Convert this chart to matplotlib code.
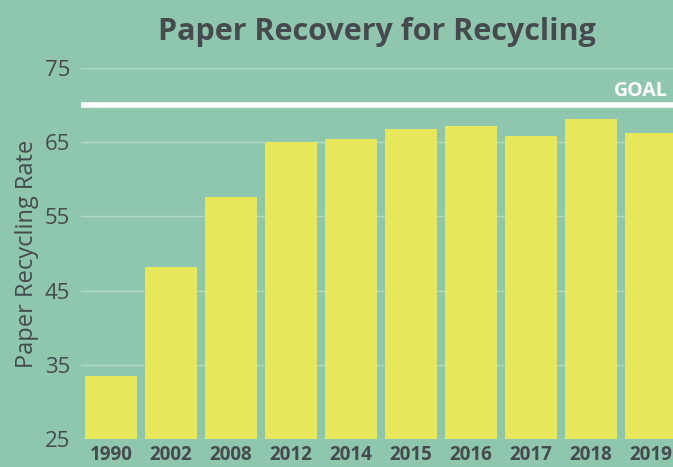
import numpy as np
import matplotlib.pyplot as plt

years = ['1990', '2002', '2008', '2012', '2014', '2015', '2016', '2017', '2018', '2019']
rates = [33.5, 48.2, 57.6, 65.0, 65.4, 66.8, 67.2, 65.8, 68.1, 66.2]
goal = 70
yticks = [25, 35, 45, 55, 65, 75]

fondo = '#8fc7ae'
amarillo = '#e6e75a'
texto = '#464a4f'

plt.rcParams['font.family'] = ['Open Sans', 'DejaVu Sans']

fig = plt.figure(figsize=(6.73, 4.67), dpi=100, facecolor=fondo)
ax = fig.add_axes([81 / 673, 1 - 439 / 467, 1 - 81 / 673, (439 - 68) / 467])
ax.set_facecolor(fondo)

x = np.arange(len(years))
ax.bar(x, rates, width=0.867, color=amarillo, zorder=2)
ax.axhline(goal, color='white', lw=4, zorder=3)
ax.text(x[-1] + 0.28, goal + 0.55, 'GOAL', color='white', fontsize=14, fontweight='bold',
        ha='right', va='bottom', zorder=4)

ax.set_xlim(-0.5, 9.37)
ax.set_ylim(25, 75)
ax.set_yticks(yticks)
ax.set_xticks(x)
ax.set_xticklabels(years, fontweight='bold')
ax.tick_params(axis='both', length=0, colors=texto)
ax.tick_params(axis='y', labelsize=16, pad=8)
ax.tick_params(axis='x', labelsize=13.5, pad=4)
ax.grid(axis='y', color='#b3d9c7', lw=1, zorder=1)
ax.set_axisbelow(True)
for s in ax.spines.values():
    s.set_visible(False)

ax.set_ylabel('Paper Recycling Rate', fontsize=17, color=texto, labelpad=4)
ax.set_title('Paper Recovery for Recycling', fontsize=22, fontweight='bold', color=texto, pad=20)

fig.savefig('out.png', dpi=100, facecolor=fondo)
